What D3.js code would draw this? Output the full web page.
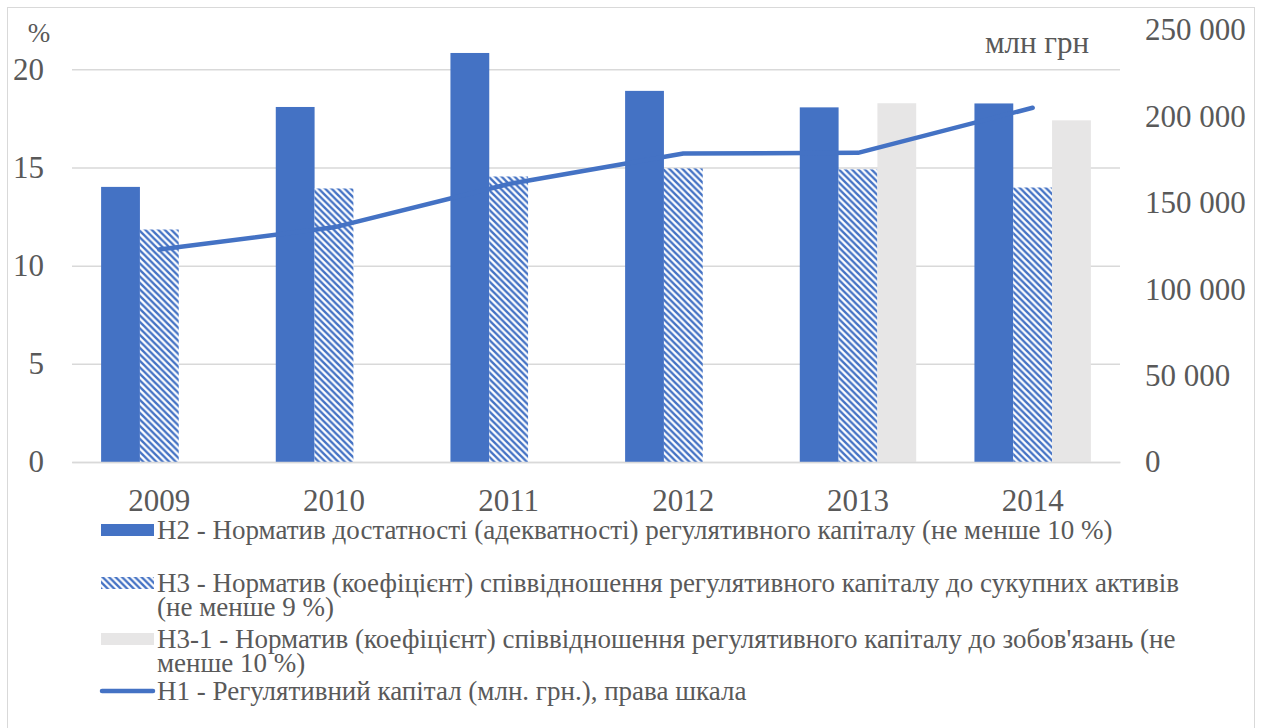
<!DOCTYPE html>
<html><head><meta charset="utf-8">
<script src="https://cdn.jsdelivr.net/npm/d3@7"></script>
<style>
html,body{margin:0;padding:0;background:#fff;}
</style></head>
<body><svg id="c" width="1267" height="728"></svg>
<script>
const years = ["2009","2010","2011","2012","2013","2014"];
const h2 = [14.01, 18.08, 20.83, 18.90, 18.06, 18.26];
const h3 = [11.84, 13.93, 14.54, 14.95, 14.90, 13.98];
const h31 = [null, null, null, null, 18.27, 17.40];
const h1 = [123000, 135800, 160900, 178500, 178900, 205000];
const leftTicks = [0, 5, 10, 15, 20];
const rightTicks = [0, 50000, 100000, 150000, 200000, 250000];
const seriesKeys = ["h2","h3","h31"];
const legendItems = [
  {key:"h2", lines:["Н2 - Норматив достатності (адекватності) регулятивного капіталу (не менше 10 %)"]},
  {key:"h3", lines:["Н3 - Норматив (коефіцієнт) співвідношення регулятивного капіталу до сукупних активів","(не менше 9 %)"]},
  {key:"h31", lines:["Н3-1 - Норматив (коефіцієнт) співвідношення регулятивного капіталу до зобов'язань (не","менше 10 %)"]},
  {key:"h1", lines:["Н1 - Регулятивний капітал (млн. грн.), права шкала"]}
];

const FF = '"Liberation Serif"';
const TXT = "#595959";
const svg = d3.select("#c");
const blue = "#4472C4", gray = "#E7E6E6", grid = "#D9D9D9";
const defs = svg.append("defs");
const pat = defs.append("pattern").attr("id","hatch").attr("patternUnits","userSpaceOnUse")
  .attr("width",6.5).attr("height",6.5);
pat.append("rect").attr("width",6.5).attr("height",6.5).attr("fill","#fff");
pat.append("path").attr("d","M0,0L6.5,6.5M-3.25,3.25L3.25,9.75M3.25,-3.25L9.75,3.25").attr("stroke",blue).attr("stroke-width",2.4);

svg.append("rect").attr("x",0).attr("y",0).attr("width",1267).attr("height",728).attr("fill","#fff");
svg.append("rect").attr("x",7.5).attr("y",7.5).attr("width",1247).attr("height",740)
  .attr("fill","none").attr("stroke",grid);

const L = 72, R = 1120, T = 30, B = 462;
const x = d3.scaleBand().domain(years).range([L, R]).padding(0);
const groupW = x.bandwidth() * 3 / 4.5;
const xs = d3.scaleBand().domain(seriesKeys).range([0, groupW]);
const yL = d3.scaleLinear().domain([0, 22]).range([B, T]);
const yR = d3.scaleLinear().domain([0, 250000]).range([B, T]);

// gridlines
const gAx = svg.append("g").attr("transform",`translate(${L},0)`)
  .call(d3.axisLeft(yL).tickValues(leftTicks).tickSize(-(R-L)).tickFormat(""));
gAx.select(".domain").remove();
gAx.selectAll(".tick line").attr("stroke",grid).attr("stroke-width",1.5);

// bars
const data = {h2, h3, h31};
const fills = {h2: blue, h3: "url(#hatch)", h31: gray};
seriesKeys.forEach(k => {
  svg.append("g").selectAll("rect").data(years.map((y,i)=>({y, v:data[k][i]})).filter(d=>d.v!=null))
    .join("rect")
    .attr("x", d => x(d.y) + (x.bandwidth()-groupW)/2 + xs(k))
    .attr("width", xs.bandwidth())
    .attr("y", d => yL(d.v))
    .attr("height", d => yL(0) - yL(d.v))
    .attr("fill", fills[k]);
});

// line
const line = d3.line().x((d,i)=>x(years[i]) + x.bandwidth()/2).y(d=>yR(d));
svg.append("path").datum(h1).attr("d", line).attr("fill","none")
  .attr("stroke", blue).attr("stroke-width",4.5).attr("stroke-linecap","round").attr("stroke-linejoin","round");

function styleAxis(g, size){
  g.attr("font-family", null).attr("font-size", null);
  g.selectAll("text").attr("font-family", null).style("font-family", FF).style("font-size", size+"px").attr("fill",TXT);
}
// left axis labels
const la = svg.append("g").attr("transform","translate(44,0)")
  .call(d3.axisLeft(yL).tickValues(leftTicks).tickSize(0).tickPadding(0).tickFormat(d3.format("d")));
la.select(".domain").remove();
styleAxis(la, 31);

// right axis labels
const fmt = v => d3.format(",")(v).replace(/,/g," ");
const ra = svg.append("g").attr("transform","translate(1145,0)")
  .call(d3.axisRight(yR).tickValues(rightTicks).tickSize(0).tickPadding(0).tickFormat(fmt));
ra.select(".domain").remove();
styleAxis(ra, 31);

// x axis labels
const xa = svg.append("g").attr("transform",`translate(0,${B})`)
  .call(d3.axisBottom(x).tickSize(0).tickPadding(27));
xa.select(".domain").attr("stroke",grid).attr("stroke-width",1.5);
styleAxis(xa, 31);

// unit labels
svg.append("text").attr("x",39).attr("y",42).attr("text-anchor","middle").style("font-family",FF).style("font-size","27px").attr("fill",TXT).text("%");
svg.append("text").attr("x",1037).attr("y",53).attr("text-anchor","middle").style("font-family",FF).style("font-size","31px").attr("fill",TXT).text("млн грн");

// legend
const legY = [539, 592, 648, 700];
const lh = 24;
legendItems.forEach((it, i) => {
  const g = svg.append("g");
  const y0 = legY[i];
  if (it.key === "h1") {
    g.append("line").attr("x1",102).attr("x2",153).attr("y1",y0-9).attr("y2",y0-9)
      .attr("stroke",blue).attr("stroke-width",4.5).attr("stroke-linecap","round");
  } else {
    g.append("rect").attr("x",101).attr("y",y0-15).attr("width",53).attr("height",12).attr("fill",fills[it.key]);
  }
  const t = g.append("text").attr("x",157).attr("y",y0).style("font-family",FF).style("font-size","27px").attr("fill",TXT);
  it.lines.forEach((ln, j) => t.append("tspan").attr("x",157).attr("y",y0 + j*lh).text(ln));
});
</script></body></html>
